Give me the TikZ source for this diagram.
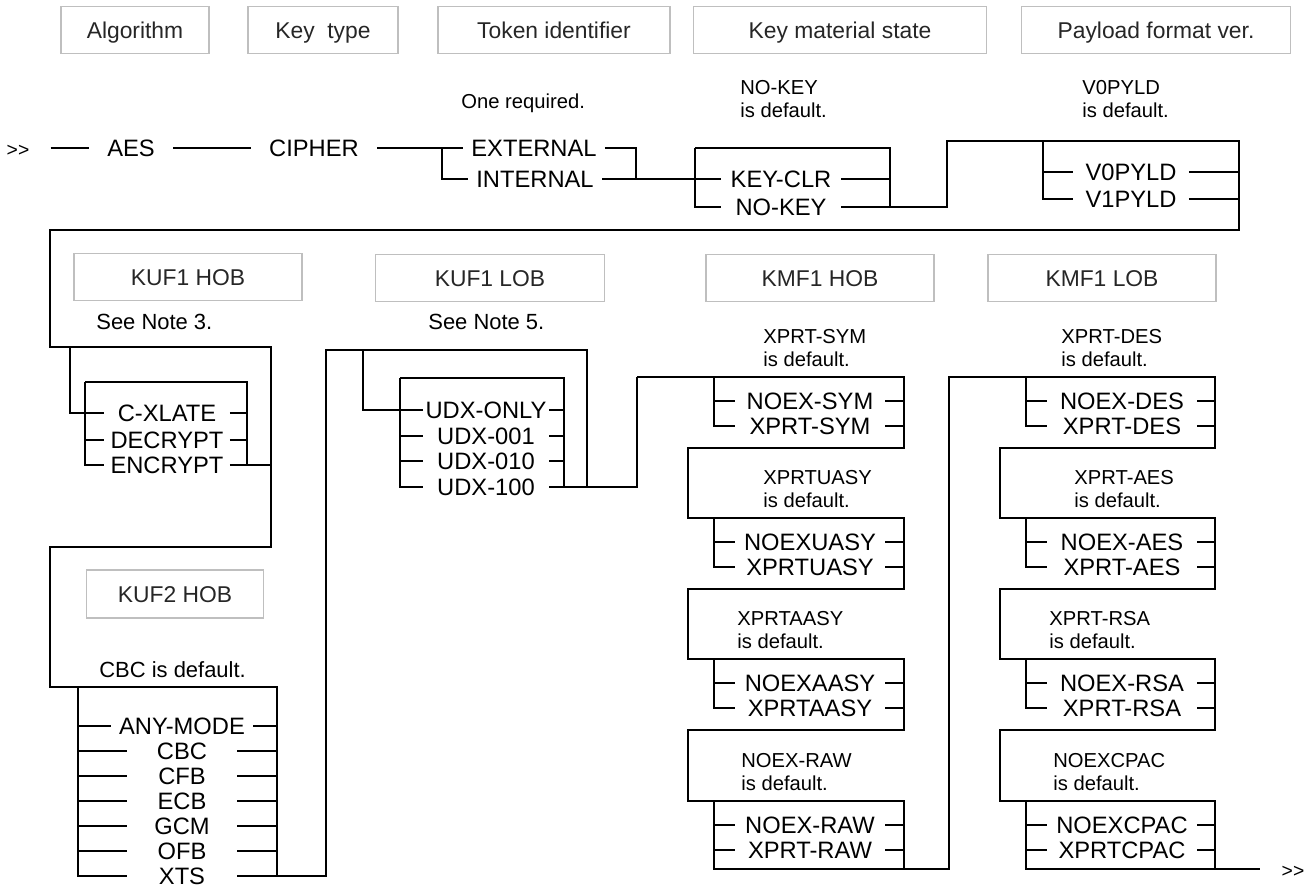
\documentclass[tikz,border=0pt]{standalone}
\usepackage{fontspec}
\setmainfont{Liberation Sans}
\tikzset{
  rail/.style={line width=1.4pt},
  hdr/.style={draw=black!25, line width=0.8pt, minimum height=0.93cm, inner sep=0pt,
    text=black!85, font=\fontsize{13}{15}\selectfont, text height=9.3pt, text depth=0pt},
  opt/.style={inner xsep=0.16cm, inner ysep=0pt, font=\fontsize{13.5}{16}\selectfont,
    text height=9.7pt, text depth=0pt},
  mainopt/.style={opt, inner xsep=0.36cm},
  endmark/.style={mainopt, inner xsep=0.42cm, font=\fontsize{11}{13}\selectfont},
  note/.style={anchor=west, align=left, inner sep=0pt, font=\fontsize{11.5}{12.8}\selectfont},
  bignote/.style={note, font=\fontsize{12.5}{14}\selectfont},
  keyopt/.style={opt, minimum width=2.4cm},
  payopt/.style={opt, inner xsep=0.24cm},
  kufopt/.style={opt, inner xsep=0.04cm, minimum width=2.5cm},
  udxopt/.style={opt, inner xsep=0.04cm, minimum width=2.52cm},
  modeopt/.style={opt, minimum width=2.2cm},
  kmfopt/.style={opt, minimum width=3.0cm}
}
\begin{document}
\begin{tikzpicture}[x=0.02cm, y=-0.02cm]
  \useasboundingbox (0,0) rectangle (1309,892);

  % Headings
  \node[hdr, minimum width=2.96cm] (alg) at (135,30) {Algorithm};
  \node[hdr, minimum width=3.0cm] (ktyp) at (323,30) {Key\hspace{0.55em}type};
  \node[hdr, minimum width=4.64cm] (tokid) at (554,30) {Token identifier};
  \node[hdr, minimum width=5.86cm] (kms) at (840,30) {Key material state};
  \node[hdr, minimum width=5.38cm] (pfv) at (1156,30) {Payload format ver.};
  \node[hdr, minimum width=4.56cm] (kuf1h) at (188,277) {KUF1 HOB};
  \node[hdr, minimum width=4.58cm] (kuf1l) at (490,278) {KUF1 LOB};
  \node[hdr, minimum width=4.56cm] (kmf1h) at (820,278) {KMF1 HOB};
  \node[hdr, minimum width=4.56cm] (kmf1l) at (1102,278) {KMF1 LOB};
  \node[hdr, minimum width=3.54cm, minimum height=0.96cm] (kuf2h) at (175,594) {KUF2 HOB};

  % First row
  \node[endmark] (beg) at (18,148) {>{}>};
  \node[mainopt] (aes) at (131,148) {AES};
  \node[mainopt] (cip) at (314,148) {CIPHER};
  \node[note] (req) at (461,103) {One required.};
  \node[opt] (ext) at (534,148) {EXTERNAL};
  \node[opt] (int) at (535,179) {INTERNAL};
  \node[note] (nkd) at (740,99) {NO-KEY\\is default.};
  \node[keyopt] (kc) at (781,179) {KEY-CLR};
  \node[keyopt] (nok) at (781,207) {NO-KEY};
  \node[note] (v0d) at (1082,99) {V0PYLD\\is default.};
  \node[payopt] (v0) at (1131,172) {V0PYLD};
  \node[payopt] (v1) at (1131,199) {V1PYLD};

  \coordinate (tl) at (442,148);
  \coordinate (tr) at (636,179);
  \coordinate (ka) at (695,148);
  \coordinate (kb) at (890,148);
  \coordinate (pa) at (947,141);
  \coordinate (pb) at (1043,141);
  \coordinate (pc) at (1239,141);
  \coordinate (rr) at (1239,230);
  \coordinate (rl) at (50,230);

  % KUF1 HOB
  \node[bignote] (sn3) at (96,322) {See Note 3.};
  \node[kufopt] (cxl) at (167,413) {C-XLATE};
  \node[kufopt] (dec) at (167,440) {DECRYPT};
  \node[kufopt] (enc) at (167,465) {ENCRYPT};
  \coordinate (h1) at (50,347);
  \coordinate (h2) at (271,347);
  \coordinate (h3) at (271,547);
  \coordinate (h4) at (50,547);
  \coordinate (h5) at (50,687);
  \coordinate (h6) at (277,687);
  \coordinate (c1) at (70,347);
  \coordinate (c2) at (85,382);
  \coordinate (c3) at (247,382);

  % KUF2 HOB
  \node[bignote] (cbcd) at (99,670) {CBC is default.};
  \foreach \nm/\txt/\yy in {anym/ANY-MODE/726, cbc/CBC/751, cfb/CFB/776, ecb/ECB/801,
      gcm/GCM/826, ofb/OFB/851, xts/XTS/876}
    \node[modeopt] (\nm) at (182,\yy) {\txt};
  \coordinate (k1) at (78,687);

  % KUF1 LOB
  \node[bignote] (sn5) at (428,322) {See Note 5.};
  \node[udxopt] (udxo) at (486,410) {UDX-ONLY};
  \node[udxopt] (u001) at (486,436) {UDX-001};
  \node[udxopt] (u010) at (486,461) {UDX-010};
  \node[udxopt] (u100) at (486,487) {UDX-100};
  \coordinate (u0) at (326,350);
  \coordinate (u1) at (587,350);
  \coordinate (u2) at (363,350);
  \coordinate (u3) at (400,378);
  \coordinate (u4) at (564,378);
  \coordinate (m0) at (637,377);

  % KMF1 HOB and KMF1 LOB
  \foreach \bi/\ty/\ra/\rb/\nx/\nh in {0/377/NOEX-SYM/XPRT-SYM/763/XPRT-SYM,
      1/518/NOEXUASY/XPRTUASY/763/XPRTUASY, 2/659/NOEXAASY/XPRTAASY/737/XPRTAASY,
      3/801/NOEX-RAW/XPRT-RAW/741/NOEX-RAW} {
    \node[kmfopt] (hx\bi) at (810,\ty+24) {\ra};
    \node[kmfopt] (hy\bi) at (810,\ty+49) {\rb};
    \node[note] (hn\bi) at (\nx,\ty-29) {\nh\\is default.};
    \coordinate (hl\bi) at (714,\ty);
    \coordinate (hr\bi) at (904,\ty);
    \coordinate (hq\bi) at (688,\ty+71);
    \draw[rail] (hl\bi) |- (hy\bi);
    \draw[rail] (hl\bi |- hx\bi) -- (hx\bi);
    \draw[rail] (hx\bi) -- (hr\bi |- hx\bi);
    \draw[rail] (hy\bi) -- (hr\bi |- hy\bi);
  }
  \foreach \bi/\ty/\ra/\rb/\nx/\nh in {0/377/NOEX-DES/XPRT-DES/1061/XPRT-DES,
      1/518/NOEX-AES/XPRT-AES/1074/XPRT-AES, 2/659/NOEX-RSA/XPRT-RSA/1049/XPRT-RSA,
      3/801/NOEXCPAC/XPRTCPAC/1053/NOEXCPAC} {
    \node[kmfopt] (lx\bi) at (1122,\ty+24) {\ra};
    \node[kmfopt] (ly\bi) at (1122,\ty+49) {\rb};
    \node[note] (ln\bi) at (\nx,\ty-29) {\nh\\is default.};
    \coordinate (ll\bi) at (1026,\ty);
    \coordinate (lr\bi) at (1215,\ty);
    \coordinate (lq\bi) at (1000,\ty+71);
    \draw[rail] (ll\bi) |- (ly\bi);
    \draw[rail] (ll\bi |- lx\bi) -- (lx\bi);
    \draw[rail] (lx\bi) -- (lr\bi |- lx\bi);
    \draw[rail] (ly\bi) -- (lr\bi |- ly\bi);
  }
  \coordinate (hbot) at (949,869);
  \coordinate (n0) at (949,377);
  \node[endmark] (fin) at (1293,869) {>{}>};

  % Rails
  \draw[rail] (beg) -- (aes) -- (cip) -- (ext);
  \draw[rail] (tl) |- (int);
  \draw[rail] (ext) -| (tr);
  \draw[rail] (int) -- (kc);
  \draw[rail] (ka) -- (kb) -- (kb |- nok);
  \draw[rail] (ka) |- (nok);
  \draw[rail] (kc) -- (kc -| kb);
  \draw[rail] (pb) |- (v1);
  \draw[rail] (pb |- v0) -- (v0);
  \draw[rail] (v0) -- (v0 -| pc);
  \draw[rail] (v1) -- (v1 -| pc);
  \draw[rail] (nok) -| (pa) -- (pc) -- (rr) -- (rl) -- (h1) -- (h2) -- (h3) -- (h4)
    -- (h5) -- (h6) -- (h6 |- xts);

  \draw[rail] (c1) |- (cxl);
  \draw[rail] (c2) -- (c3) -- (c3 |- enc);
  \draw[rail] (c2) |- (enc);
  \draw[rail] (c2 |- dec) -- (dec);
  \draw[rail] (cxl) -- (cxl -| c3);
  \draw[rail] (dec) -- (dec -| c3);
  \draw[rail] (enc) -- (enc -| h2);

  \foreach \nm in {anym,cbc,cfb,ecb,gcm,ofb} {
    \draw[rail] (k1 |- \nm) -- (\nm);
    \draw[rail] (\nm) -- (h6 |- \nm);
  }
  \draw[rail] (k1) |- (xts);
  \draw[rail] (xts) -| (u0) -- (u1) -- (u1 |- u100);

  \draw[rail] (u2) |- (udxo);
  \draw[rail] (u3) -- (u4) -- (u4 |- u100);
  \draw[rail] (u3) |- (u100);
  \foreach \nm in {u001,u010} \draw[rail] (u3 |- \nm) -- (\nm);
  \foreach \nm in {udxo,u001,u010} \draw[rail] (\nm) -- (u4 |- \nm);
  \draw[rail] (u100) -| (m0);

  \draw[rail] (m0) -- (hr0) |- (hq0) |- (hr1) |- (hq1) |- (hr2) |- (hq2) |- (hr3)
    -- (hr3 |- hbot);
  \draw[rail] (hl3) |- (hbot) -- (n0) -- (lr0) |- (lq0) |- (lr1) |- (lq1) |- (lr2)
    |- (lq2) |- (lr3) -- (lr3 |- fin);
  \draw[rail] (ll3) |- (fin);
\end{tikzpicture}
\end{document}
